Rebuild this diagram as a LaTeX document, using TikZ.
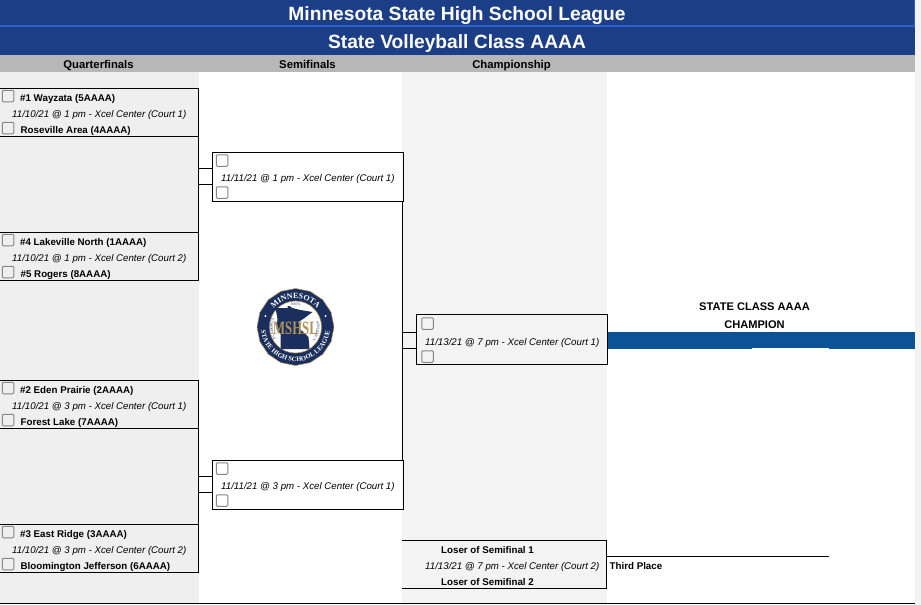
\documentclass[tikz,border=0pt]{standalone}
\usepackage{fontspec}
\setmainfont{Liberation Sans}
\newfontfamily\serifl{Liberation Serif}
\usetikzlibrary{decorations.text}
\definecolor{navy}{HTML}{1C3E87}
\definecolor{bluel}{HTML}{2A62C8}
\definecolor{hdrgray}{HTML}{B7B7B7}
\definecolor{colA}{HTML}{EFEFEF}
\definecolor{colB}{HTML}{F3F3F3}
\definecolor{champ}{HTML}{0B5394}
\definecolor{cbx}{HTML}{858585}
\definecolor{lognavy}{HTML}{1B2F5E}
\definecolor{loggold}{HTML}{B0925A}
\tikzset{
  x=1pt,y=-1pt,
  gamebox/.style={draw=black,line width=1pt,minimum width=190.5pt,minimum height=49pt,inner sep=0pt,anchor=north west},
  link/.style={draw=black,line width=1pt},
  cbox/.style={draw=cbx,line width=1pt,fill=colB,rounded corners=1pt,minimum size=11.5pt,inner sep=0pt,anchor=center},
  team/.style={anchor=base west,font=\bfseries\fontsize{9.75}{10}\selectfont,inner sep=0pt,text=black},
  when/.style={anchor=base west,font=\itshape\fontsize{9.7}{10}\selectfont,inner sep=0pt,text=black},
  lose/.style={anchor=base,font=\bfseries\fontsize{9.75}{10}\selectfont,inner sep=0pt,text=black},
  round/.style={anchor=base,font=\bfseries\fontsize{11.3}{12}\selectfont,inner sep=0pt,text=black},
  title/.style={anchor=base,font=\bfseries\fontsize{19.2}{22}\selectfont,inner sep=0pt,text=white},
  champt/.style={anchor=base,font=\bfseries\fontsize{11.1}{12}\selectfont,inner sep=0pt,text=black},
}
\begin{document}
\begin{tikzpicture}
\useasboundingbox (0,0) rectangle (921,605);
% bands
\fill[white] (0,0) rectangle (921,605);
\fill[colB] (915,0) rectangle (921,605);
\fill[navy] (0,0) rectangle (915,55);
\fill[bluel] (0,25) rectangle (915,27);
\fill[bluel] (914,0) rectangle (915,27);
\fill[hdrgray] (0,55) rectangle (915,72);
\fill[colA] (0,72) rectangle (199,604);
\fill[colB] (402,72) rectangle (607,604);
\fill[champ] (607,332) rectangle (915,349);
\fill[white] (752,348) rectangle (829,349);
\draw[black,line width=1pt] (0,603.5) -- (915,603.5);
% titles
\node[title] (t1) at (457,20) {Minnesota State High School League};
\node[title] (t2) at (457,48) {State Volleyball Class AAAA};
\node[round] (r1) at (98.5,68) {Quarterfinals};
\node[round] (r2) at (307.5,68) {Semifinals};
\node[round] (r3) at (511.5,68) {Championship};
% quarterfinal boxes
\coordinate (q1a) at (198.5,88.5); \coordinate (q1b) at (198.5,136.5);
\coordinate (q2a) at (198.5,232.5); \coordinate (q2b) at (198.5,280.5);
\coordinate (q3a) at (198.5,380.5); \coordinate (q3b) at (198.5,428.5);
\coordinate (q4a) at (198.5,524.5); \coordinate (q4b) at (198.5,572.5);
\draw[link] (0,88.5) -- (q1a) -- (q2b) -- (0,280.5);
\draw[link] (0,136.5) -- (q1b);
\draw[link] (0,232.5) -- (q2a);
\draw[link] (0,380.5) -- (q3a) -- (q4b) -- (0,572.5);
\draw[link] (0,428.5) -- (q3b);
\draw[link] (0,524.5) -- (q4a);
% quarterfinal text
\foreach \y/\ta/\d/\tb [count=\i] in {97/{\#1 Wayzata (5AAAA)}/{11/10/21 @ 1 pm - Xcel Center (Court 1)}/{Roseville Area (4AAAA)},
 241/{\#4 Lakeville North (1AAAA)}/{11/10/21 @ 1 pm - Xcel Center (Court 2)}/{\#5 Rogers (8AAAA)},
 389/{\#2 Eden Prairie (2AAAA)}/{11/10/21 @ 3 pm - Xcel Center (Court 1)}/{Forest Lake (7AAAA)},
 533/{\#3 East Ridge (3AAAA)}/{11/10/21 @ 3 pm - Xcel Center (Court 2)}/{Bloomington Jefferson (6AAAA)}}{
  \node[cbox,fill=colA] (qc\i a) at (8,\y-1) {};
  \node[team] (qt\i a) at (20,\y+4) {\ta};
  \node[when] (qd\i) at (12,\y+20) {\d};
  \node[cbox,fill=colA] (qc\i b) at (8,\y+31) {};
  \node[team] (qt\i b) at (20.5,\y+36) {\tb};
}
% semifinal boxes
\node[gamebox] (s1) at (212,152) {};
\node[gamebox] (s2) at (212,460) {};
\draw[link] (198.5,168.5) -- (212,168.5);
\draw[link] (198.5,184.5) -- (212,184.5);
\draw[link] (198.5,476.5) -- (212,476.5);
\draw[link] (198.5,492.5) -- (212,492.5);
\node[cbox,fill=white] (sc1a) at (222,160.5) {};
\node[cbox,fill=white] (sc1b) at (222,192.5) {};
\node[cbox,fill=white] (sc2a) at (222,468.5) {};
\node[cbox,fill=white] (sc2b) at (222,500.5) {};
\node[when] (sd1) at (221,181) {11/11/21 @ 1 pm - Xcel Center (Court 1)};
\node[when] (sd2) at (221,489) {11/11/21 @ 3 pm - Xcel Center (Court 1)};
% semifinal to final bracket
\draw[link] (402.2,200.5) -- (402.2,460.5);
% final box
\node[gamebox,minimum height=50pt] (f) at (416,314) {};
\draw[link] (402.2,332.5) -- (416,332.5);
\draw[link] (402.2,348) -- (416,348);
\node[cbox] (fca) at (427.5,323.5) {};
\node[cbox] (fcb) at (427.5,356.5) {};
\node[when] (fd) at (425,345) {11/13/21 @ 7 pm - Xcel Center (Court 1)};
% third place
\draw[link] (402,540.5) -- (606.5,540.5) -- (606.5,588.5) -- (402,588.5);
\draw[link] (606.5,556.5) -- (829,556.5);
\node[lose] (l1) at (487.5,553) {Loser of Semifinal 1};
\node[when] (td) at (425,569) {11/13/21 @ 7 pm - Xcel Center (Court 2)};
\node[lose] (l2) at (487.5,585) {Loser of Semifinal 2};
\node[team] (tp) at (609.5,569) {Third Place};
% champion text
\node[champt] (c1) at (754.5,310) {STATE CLASS AAAA};
\node[champt] (c2) at (754.5,328) {CHAMPION};
% logo
\begin{scope}[shift={(295.5,327)},x=1pt,y=1pt]
  \fill[lognavy,draw=loggold,line width=0.5pt,line join=round] (0:38.5) -- (22.5:38.5) -- (45:38.5) -- (67.5:38.5) -- (90:38.5) -- (112.5:38.5) -- (135:38.5) -- (157.5:38.5) -- (180:38.5) -- (202.5:38.5) -- (225:38.5) -- (247.5:38.5) -- (270:38.5) -- (292.5:38.5) -- (315:38.5) -- (337.5:38.5) -- cycle;
  \fill[white] (0,0) circle[radius=26];
  \draw[loggold,line width=0.6pt] (0,0) circle[radius=26];
  \fill[lognavy] (-20,19) -- (-8,19) -- (-8,21) -- (-6,21) -- (-3,19) -- (5,17) -- (17,15) -- (9,9) -- (3,5) -- (4,-2) -- (9,-6) -- (13,-10) -- (14,-22) -- (-15,-22) -- (-15,-7) -- (-19,-2) -- (-18,8) -- cycle;
  \node[inner sep=0pt,text=loggold,font=\serifl\bfseries\fontsize{13}{13}\selectfont] (mshsl) at (0,-1) {\scalebox{0.98}[1.45]{MSHSL}};
  \path[decorate,decoration={text along path,text align=center,text={|\serifl\bfseries\fontsize{8}{8}\selectfont\color{white}|MINNESOTA}}] (160:28.5) arc[start angle=160,end angle=20,radius=28.5];
  \path[decorate,decoration={text along path,text align=center,text={|\serifl\bfseries\fontsize{6.6}{7}\selectfont\color{white}|STATE HIGH SCHOOL LEAGUE}}] (175:34.5) arc[start angle=175,end angle=365,radius=34.5];
  \path[decorate,decoration={text along path,text align=center,text={|\serifl\fontsize{3.6}{4}\selectfont\color{lognavy}|ARTS}}] (110:21.5) arc[start angle=110,end angle=70,radius=21.5];
  \path[decorate,decoration={text along path,text align=center,text={|\serifl\fontsize{3.6}{4}\selectfont\color{lognavy}|ACADEMICS}}] (240:23) arc[start angle=240,end angle=130,radius=23];
  \path[decorate,decoration={text along path,text align=center,text={|\serifl\fontsize{3.6}{4}\selectfont\color{lognavy}|ATHLETICS}}] (40:21.5) arc[start angle=40,end angle=-60,radius=21.5];
  \fill[white] (160:32) circle[radius=1.1];
  \fill[white] (20:32) circle[radius=1.1];
\end{scope}
\end{tikzpicture}
\end{document}
